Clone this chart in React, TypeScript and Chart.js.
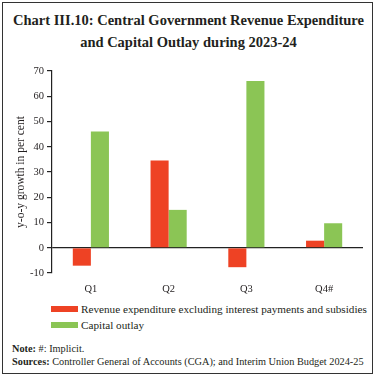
import React, { useEffect, useRef } from "react";
import { Chart, registerables } from "chart.js";

Chart.register(...registerables);

const categories = ["Q1", "Q2", "Q3", "Q4#"];
const revenueExp = [-7.1, 34.6, -7.7, 2.8];
const capitalOutlay = [46.0, 15.0, 66.0, 9.7];
const seriesNames = [
  "Revenue expenditure excluding interest payments and subsidies",
  "Capital outlay",
];
const colors = ["#EE4224", "#8BC555"];
const yMin = -10;
const yMax = 70;
const yStep = 10;

const FONT = "'Liberation Serif', 'DejaVu Serif', serif";
const TEXT = "#231F20";

export default function App() {
  const ref = useRef<HTMLCanvasElement | null>(null);

  useEffect(() => {
    if (!ref.current) return;
    const chart = new Chart(ref.current, {
      type: "bar",
      data: {
        labels: categories,
        datasets: [
          { label: seriesNames[0], data: revenueExp, backgroundColor: colors[0], borderWidth: 0 },
          { label: seriesNames[1], data: capitalOutlay, backgroundColor: colors[1], borderWidth: 0 },
        ],
      },
      options: {
        responsive: true,
        maintainAspectRatio: false,
        animation: false,
        datasets: { bar: { barPercentage: 1, categoryPercentage: 0.465 } },
        layout: { padding: { left: 0, right: 14, top: 11, bottom: 0 } },
        plugins: { legend: { display: false }, tooltip: { enabled: false }, title: { display: false } },
        scales: {
          x: {
            grid: { display: false, drawTicks: false },
            border: { display: false },
            ticks: { color: TEXT, font: { family: FONT, size: 10.5 }, padding: 10 },
            afterFit: (s: any) => { s.height = 27; },
          },
          y: {
            min: yMin,
            max: yMax,
            ticks: { stepSize: yStep, color: TEXT, font: { family: FONT, size: 10.5 }, padding: 3 },
            grid: {
              drawOnChartArea: true,
              color: (ctx: any) => (ctx.tick && ctx.tick.value === 0 ? "#222" : "rgba(0,0,0,0)"),
              lineWidth: 1.2,
              tickColor: "#222",
              tickLength: 5,
            },
            border: { display: true, color: "#222", width: 1.2 },
            title: {
              display: true,
              text: "y-o-y growth in per cent",
              color: TEXT,
              font: { family: FONT, size: 11.5 },
              padding: { top: 14, bottom: 4 },
            },
            afterFit: (s: any) => { s.width = 52; },
          },
        },
      },
    });
    return () => chart.destroy();
  }, []);

  const legendRow = (i: number, top: number) => (
    <div style={{ position: "absolute", left: 51, top, display: "flex", alignItems: "center", height: 12 }}>
      <span style={{ display: "inline-block", width: 27, height: 6, background: colors[i], marginRight: 3 }} />
      <span style={{ fontSize: 11.2, color: TEXT, whiteSpace: "nowrap" }}>{seriesNames[i]}</span>
    </div>
  );

  return (
    <div style={{ position: "absolute", left: 0, top: 0, width: 377, height: 378, background: "#fff", fontFamily: FONT }}>
      <div style={{ position: "absolute", left: 2, top: 2, width: 369, height: 370, border: "1px solid #333" }} />
      <div
        style={{
          position: "absolute",
          left: 0,
          top: 9,
          width: 377,
          textAlign: "center",
          fontWeight: "bold",
          fontSize: 14.5,
          lineHeight: "22px",
          color: TEXT,
        }}
      >
        Chart III.10: Central Government Revenue Expenditure
        <br />
        and Capital Outlay during 2023-24
      </div>
      <div style={{ position: "absolute", left: 0, top: 60, width: 377, height: 240 }}>
        <canvas ref={ref} />
      </div>
      {legendRow(0, 303)}
      {legendRow(1, 319)}
      <div style={{ position: "absolute", left: 12, top: 342, fontSize: 10.3, color: TEXT, lineHeight: "13px", whiteSpace: "nowrap" }}>
        <div><b>Note:</b> #: Implicit.</div>
        <div><b>Sources:</b> Controller General of Accounts (CGA); and Interim Union Budget 2024-25</div>
      </div>
    </div>
  );
}
